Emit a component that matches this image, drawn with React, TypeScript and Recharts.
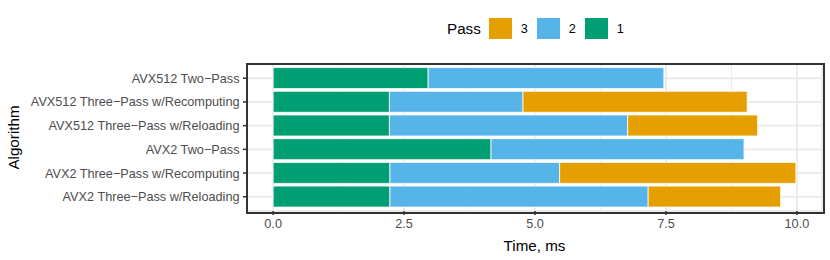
import React from 'react';
import { BarChart, Bar, XAxis, YAxis, CartesianGrid } from 'recharts';

// top row first, same order as the plot
const algorithms = [
  'AVX512 Two\u2212Pass',
  'AVX512 Three\u2212Pass w/Recomputing',
  'AVX512 Three\u2212Pass w/Reloading',
  'AVX2 Two\u2212Pass',
  'AVX2 Three\u2212Pass w/Recomputing',
  'AVX2 Three\u2212Pass w/Reloading',
];
const pass1 = [2.96, 2.22, 2.22, 4.16, 2.23, 2.23];
const pass2 = [4.50, 2.55, 4.55, 4.83, 3.24, 4.93];
const pass3 = [0, 4.28, 2.48, 0, 4.51, 2.53];

const xTicks = [0, 2.5, 5, 7.5, 10];
const xMinorTicks = [1.25, 3.75, 6.25, 8.75];

const series = [
  { key: 'p3', name: '3', color: '#E69F00' },
  { key: 'p2', name: '2', color: '#56B4E9' },
  { key: 'p1', name: '1', color: '#009E73' },
];

const data = algorithms.map((a, i) => ({ algo: a, p1: pass1[i], p2: pass2[i], p3: pass3[i] }));

const W = 830;
const H = 260;
const M = { top: 64, right: 8, bottom: 0, left: 0 };
const Y_W = 247;
const X_H = 49;
const FONT = '"Liberation Sans", Arial, sans-serif';
const TICK_FS = 12.7;
const TITLE_FS = 15.2;

const maxTotal = Math.max(...data.map(d => d.p1 + d.p2 + d.p3));
const xDomain = [-maxTotal * 0.05, maxTotal * 1.05];

export default function App() {
  const panelW = W - M.left - Y_W - M.right;
  const panelH = H - M.top - X_H - M.bottom;
  return (
    <div style={{ position: 'absolute', left: 0, top: 0, width: W, height: H, background: '#fff', fontFamily: FONT }}>
      <BarChart
        width={W}
        height={H}
        data={data}
        layout="vertical"
        margin={M}
        barCategoryGap="5%"
      >
        <CartesianGrid xAxisId="minor" horizontal={false} stroke="#EBEBEB" strokeWidth={0.95} />
        <CartesianGrid stroke="#EBEBEB" strokeWidth={1.9} />
        <XAxis
          xAxisId="minor"
          type="number"
          domain={xDomain}
          allowDataOverflow
          ticks={xMinorTicks}
          hide
        />
        <XAxis
          type="number"
          domain={xDomain}
          allowDataOverflow
          ticks={xTicks}
          tickFormatter={(v: number) => v.toFixed(1)}
          height={X_H}
          axisLine={false}
          tickSize={4}
          tickMargin={4}
          tickLine={{ stroke: '#333333', strokeWidth: 1.5 }}
          tick={{ fill: '#4D4D4D', fontSize: TICK_FS, fontFamily: FONT }}
          label={{ value: 'Time, ms', position: 'insideBottom', offset: 9, fill: '#000', fontSize: TITLE_FS, fontFamily: FONT }}
        />
        <YAxis
          type="category"
          dataKey="algo"
          width={Y_W}
          padding={{ top: 2.4, bottom: 2.4 }}
          axisLine={false}
          tickSize={4}
          tickMargin={3.5}
          interval={0}
          tickLine={{ stroke: '#333333', strokeWidth: 1.5 }}
          tick={{ fill: '#4D4D4D', fontSize: TICK_FS, fontFamily: FONT }}
          label={{ value: 'Algorithm', angle: -90, position: 'insideLeft', offset: 14, fill: '#000', fontSize: TITLE_FS, fontFamily: FONT, style: { textAnchor: 'middle' } }}
        />
        <Bar dataKey="p1" name="1" stackId="s" fill="#009E73" stroke="#fff" strokeWidth={0.8} isAnimationActive={false} />
        <Bar dataKey="p2" name="2" stackId="s" fill="#56B4E9" stroke="#fff" strokeWidth={0.8} isAnimationActive={false} />
        <Bar dataKey="p3" name="3" stackId="s" fill="#E69F00" stroke="#fff" strokeWidth={0.8} isAnimationActive={false} />
      </BarChart>

      {/* panel border like theme_bw */}
      <div
        style={{
          position: 'absolute',
          left: M.left + Y_W - 1,
          top: M.top - 1,
          width: panelW,
          height: panelH,
          border: '2px solid #333333',
          pointerEvents: 'none',
        }}
      />

      {/* legend */}
      <div style={{ position: 'absolute', left: 447, top: 18, height: 21, display: 'flex', alignItems: 'center' }}>
        <span style={{ fontSize: TITLE_FS, color: '#000', marginRight: 8 }}>Pass</span>
        {series.map(s => (
          <div key={s.key} style={{ display: 'flex', alignItems: 'center', width: 48 }}>
            <div style={{ width: 23, height: 21, background: s.color }} />
            <span style={{ fontSize: TICK_FS, color: '#000', marginLeft: 9 }}>{s.name}</span>
          </div>
        ))}
      </div>
    </div>
  );
}
